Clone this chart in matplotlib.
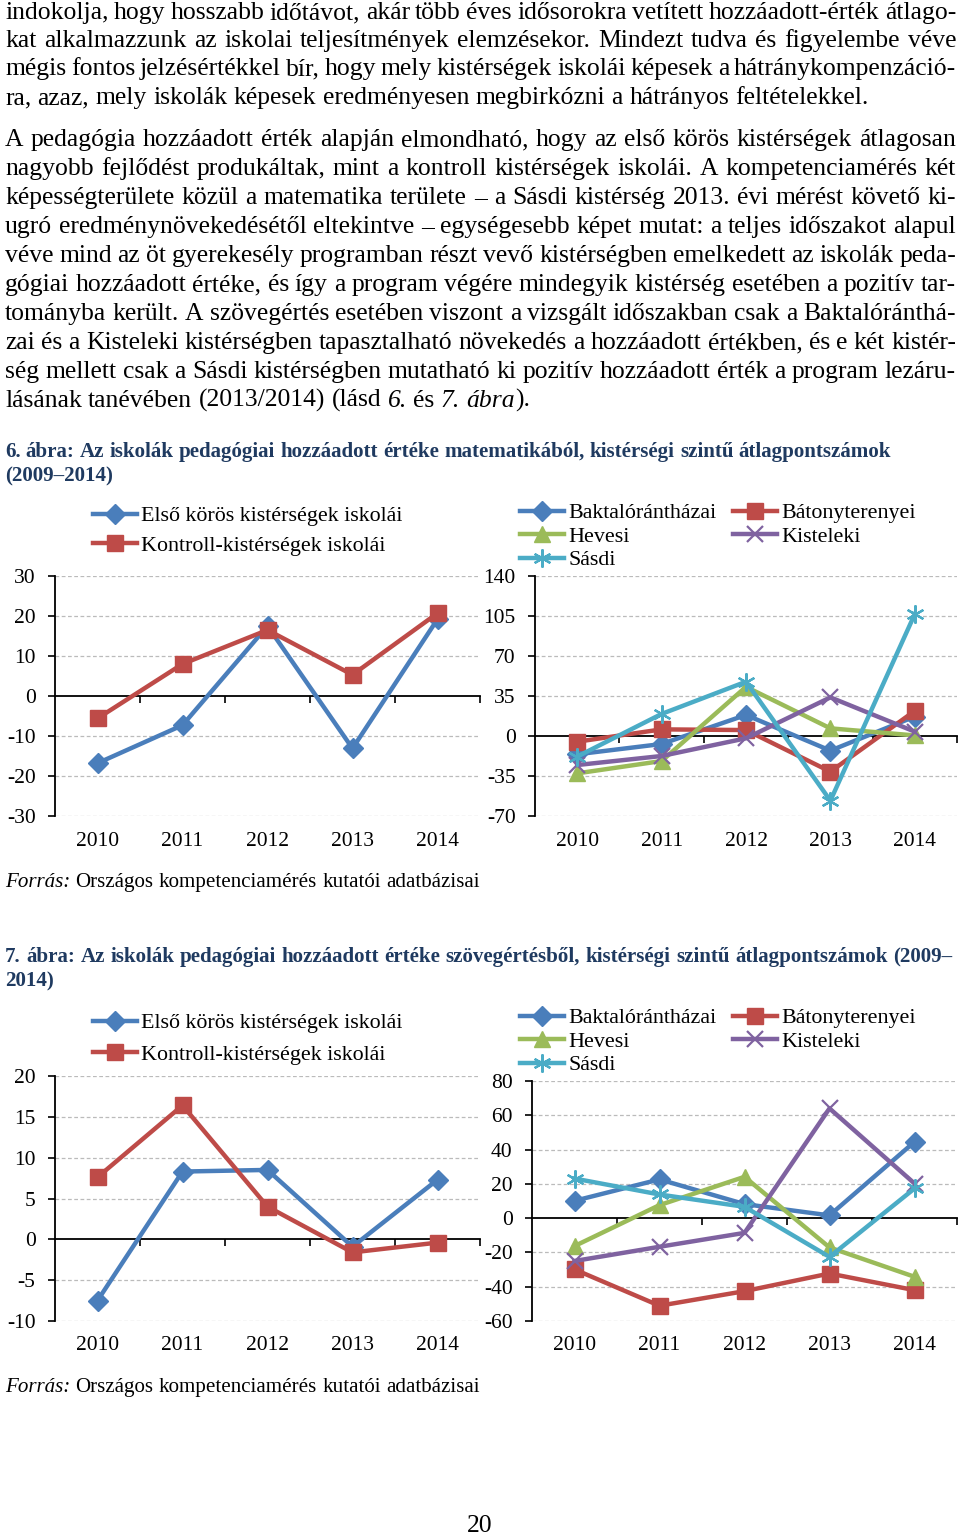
import numpy as np
import matplotlib
matplotlib.use("Agg")
import matplotlib.pyplot as plt
from matplotlib.transforms import blended_transform_factory

plt.rcParams['font.family'] = ['Liberation Serif', 'DejaVu Serif']
plt.rcParams['axes.unicode_minus'] = False

# ---------------- data ----------------
years = ['2010', '2011', '2012', '2013', '2014']

group_labels = ['Első körös kistérségek iskolái', 'Kontroll-kistérségek iskolái']
district_labels = ['Baktalórántházai', 'Bátonyterenyei', 'Hevesi', 'Kisteleki', 'Sásdi']

math_first = [-16.8, -7.3, 17.5, -13.1, 19.2]
math_control = [-5.6, 8.0, 16.5, 5.3, 20.7]

math_bakt = [-16.0, -7.0, 18.4, -12.8, 17.0]
math_baton = [-5.0, 5.8, 5.2, -31.2, 22.0]
math_heves = [-32.7, -21.9, 43.0, 6.7, 0.5]
math_kist = [-25.4, -17.5, -2.0, 33.8, 3.8]
math_sasd = [-18.0, 19.3, 47.5, -56.6, 106.7]

read_first = [-7.5, 8.3, 8.5, -0.9, 7.3]
read_control = [7.6, 16.4, 4.0, -1.6, -0.4]

read_bakt = [10.1, 22.6, 8.2, 1.6, 44.5]
read_baton = [-29.9, -51.1, -42.6, -32.3, -42.0]
read_heves = [-16.3, 7.6, 24.1, -17.1, -34.2]
read_kist = [-25.0, -16.7, -8.6, 64.0, 20.2]
read_sasd = [23.1, 13.8, 6.6, -22.6, 17.3]

# ---------------- style ----------------
W, H = 960, 1536
fig = plt.figure(figsize=(W / 100, H / 100), dpi=100)
renderer = fig.canvas.get_renderer()

C_BLUE = '#4A7EBB'
C_RED = '#BE4B48'
C_GREEN = '#9BBB59'
C_PURPLE = '#7F62A0'
C_CYAN = '#4BACC6'
CAP_COLOR = '#1F3A60'

series_style = {
    'blue': dict(color=C_BLUE, marker='D', markersize=10),
    'red': dict(color=C_RED, marker='s', markersize=11),
    'green': dict(color=C_GREEN, marker='^', markersize=11),
    'purple': dict(color=C_PURPLE, marker='x', markersize=11, markeredgewidth=1.6),
    'cyan': dict(color=C_CYAN, marker=(6, 2, 0), markersize=13, markeredgewidth=1.6),
}

TICK = 15.5
LEG = 15.8


def fy(y):
    return 1 - y / H


def make_ax(left, top, right, bottom):
    return fig.add_axes([left / W, 1 - bottom / H, (right - left) / W, (bottom - top) / H])


def style_chart(ax, ylim, step, cats, height_px):
    n = len(cats)
    ax.set_xlim(-0.5, n - 0.5)
    ax.set_ylim(*ylim)
    yt = np.arange(ylim[0], ylim[1] + step / 2, step)
    ax.set_yticks(yt)
    ax.set_yticklabels([f'{int(v)}' for v in yt])
    for v in yt:
        if v != 0:
            ax.axhline(v, color='#BBBBBB', lw=0.9, ls=(0, (3, 2)), zorder=0)
    for s in ['top', 'right']:
        ax.spines[s].set_visible(False)
    ax.spines['bottom'].set_position(('data', 0))
    ax.spines['bottom'].set_linewidth(1.3)
    ax.spines['left'].set_linewidth(1.3)
    ax.set_xticks(np.arange(0.5, n))
    ax.tick_params(axis='x', direction='out', length=5, width=1.2, labelbottom=False)
    ax.tick_params(axis='y', direction='out', length=5, width=1.2, pad=9, labelsize=TICK)
    tr = blended_transform_factory(ax.transData, ax.transAxes)
    for i, c in enumerate(cats):
        ax.text(i, -25 / height_px, c, transform=tr, ha='center', va='center', fontsize=TICK)
    ax.patch.set_alpha(0)


def plot_series(ax, vals, key, lw=3.2):
    x = np.arange(len(vals))
    return ax.plot(x, vals, lw=lw, zorder=3, clip_on=False, **series_style[key])[0]


# ---------------- text helpers ----------------
def measure(s, size, style='normal', weight='normal'):
    t = fig.text(0, 0, s, fontsize=size, fontstyle=style, fontweight=weight)
    w = t.get_window_extent(renderer).width
    t.remove()
    return w


def place_line(words, y_base, size, justify, x0=5, x1=956, color='black', weight='normal'):
    widths = []
    for wd in words:
        widths.append([measure(txt, size, st, weight) for txt, st in wd])
    totals = [sum(w) for w in widths]
    if justify and len(words) > 1:
        gap = (x1 - x0 - sum(totals)) / (len(words) - 1)
    else:
        gap = measure('x x', size, 'normal', weight) - measure('xx', size, 'normal', weight)
    x = x0
    for wd, ws in zip(words, widths):
        xx = x
        for (txt, st), w in zip(wd, ws):
            fig.text(xx / W, fy(y_base), txt, fontsize=size, fontstyle=st, fontweight=weight,
                     color=color, ha='left', va='baseline')
            xx += w
        x = xx + gap


def simple_words(s, style='normal'):
    return [[(w, style)] for w in s.split(' ')]


def fit_size(text, target_px, ref=15.0, weight='normal'):
    return ref * target_px / measure(text, ref, 'normal', weight)


para1 = [
    "indokolja, hogy hosszabb időtávot, akár több éves idősorokra vetített hozzáadott-érték átlago-",
    "kat alkalmazzunk az iskolai teljesítmények elemzésekor. Mindezt tudva és figyelembe véve",
    "mégis fontos jelzésértékkel bír, hogy mely kistérségek iskolái képesek a hátránykompenzáció-",
    "ra, azaz, mely iskolák képesek eredményesen megbirkózni a hátrányos feltételekkel.",
]
para1_y = [12, 40, 68, 97]

para2 = [
    "A pedagógia hozzáadott érték alapján elmondható, hogy az első körös kistérségek átlagosan",
    "nagyobb fejlődést produkáltak, mint a kontroll kistérségek iskolái. A kompetenciamérés két",
    "képességterülete közül a matematika területe – a Sásdi kistérség 2013. évi mérést követő ki-",
    "ugró eredménynövekedésétől eltekintve – egységesebb képet mutat: a teljes időszakot alapul",
    "véve mind az öt gyerekesély programban részt vevő kistérségben emelkedett az iskolák peda-",
    "gógiai hozzáadott értéke, és így a program végére mindegyik kistérség esetében a pozitív tar-",
    "tományba került. A szövegértés esetében viszont a vizsgált időszakban csak a Baktalóránthá-",
    "zai és a Kisteleki kistérségben tapasztalható növekedés a hozzáadott értékben, és e két kistér-",
    "ség mellett csak a Sásdi kistérségben mutatható ki pozitív hozzáadott érték a program lezáru-",
]
para2_y = [139, 168, 197, 226, 255, 284, 313, 342, 371, 400]

# body font size: match width of the unjustified last line of paragraph 1
BODY = fit_size(para1[-1], 879)
# make sure every justified line still fits with a natural-looking gap
for line in para1[:-1] + para2:
    words = line.split(' ')
    nat = sum(measure(w, BODY) for w in words) + 5.0 * (len(words) - 1)
    if nat > 951:
        BODY *= 951 / nat

BASE_OFF = 7
for i, (line, y) in enumerate(zip(para1, para1_y)):
    place_line(simple_words(line), y + BASE_OFF, BODY, justify=(i < len(para1) - 1))
for line, y in zip(para2, para2_y[:-1]):
    place_line(simple_words(line), y + BASE_OFF, BODY, justify=True)
last_words = simple_words("lásának tanévében (2013/2014) (lásd") + [[("6.", 'italic')], [("és", 'normal')],
              [("7.", 'italic')], [("ábra", 'italic'), (").", 'normal')]]
place_line(last_words, para2_y[-1] + BASE_OFF, BODY, justify=False)

# captions
cap6 = "6. ábra: Az iskolák pedagógiai hozzáadott értéke matematikából, kistérségi szintű átlagpontszámok"
cap7 = "7. ábra: Az iskolák pedagógiai hozzáadott értéke szövegértésből, kistérségi szintű átlagpontszámok (2009–"
CAP = fit_size(cap6, 888, weight='bold')
place_line(simple_words(cap6), 451 + 6, CAP, justify=False, color=CAP_COLOR, weight='bold')
place_line(simple_words("(2009–2014)"), 475 + 6, CAP, justify=False, color=CAP_COLOR, weight='bold')
place_line(simple_words(cap7), 956 + 6, CAP, justify=True, x1=952, color=CAP_COLOR, weight='bold')
place_line(simple_words("2014)"), 980 + 6, CAP, justify=False, color=CAP_COLOR, weight='bold')

src_rest = "Országos kompetenciamérés kutatói adatbázisai"
SRC = fit_size("Forrás: " + src_rest, 471)
for y in [881, 1386]:
    place_line([[("Forrás:", 'italic')]] + simple_words(src_rest), y + 6, SRC, justify=False)

fig.text(480 / W, fy(1526 + 6), "20", fontsize=BODY, ha='center', va='baseline')


# ---------------- charts ----------------
def group_chart(ax, first, control, ylim, step, h, leg_x, leg_top, spacing):
    style_chart(ax, ylim, step, years, h)
    l1 = plot_series(ax, first, 'blue')
    l2 = plot_series(ax, control, 'red')
    ax.legend([l1, l2], group_labels, loc='upper left', bbox_to_anchor=(leg_x / W, fy(leg_top)),
              bbox_transform=fig.transFigure, frameon=False, borderpad=0, borderaxespad=0,
              handlelength=2.0, handletextpad=0.2, labelspacing=spacing, prop={'size': LEG})


def district_chart(ax, series, ylim, step, h, leg_x, leg_top):
    style_chart(ax, ylim, step, years, h)
    keys = ['blue', 'red', 'green', 'purple', 'cyan']
    lines = [plot_series(ax, s, k) for s, k in zip(series, keys)]
    order = [0, 2, 4, 1, 3]
    ax.legend([lines[i] for i in order], [district_labels[i] for i in order], ncol=2,
              loc='upper left', bbox_to_anchor=(leg_x / W, fy(leg_top)),
              bbox_transform=fig.transFigure, frameon=False, borderpad=0, borderaxespad=0,
              handlelength=2.0, handletextpad=0.2, labelspacing=0.14, columnspacing=0.75,
              prop={'size': LEG})


ax1 = make_ax(55, 576, 480, 816)
group_chart(ax1, math_first, math_control, (-30, 30), 10, 240, 93, 506, 0.43)

ax2 = make_ax(535, 576, 957, 816)
district_chart(ax2, [math_bakt, math_baton, math_heves, math_kist, math_sasd], (-70, 140), 35, 240, 520, 503)

ax3 = make_ax(55, 1076, 480, 1321)
group_chart(ax3, read_first, read_control, (-10, 20), 5, 245, 93, 1013, 0.52)

ax4 = make_ax(532, 1081, 957, 1321)
district_chart(ax4, [read_bakt, read_baton, read_heves, read_kist, read_sasd], (-60, 80), 20, 240, 520, 1008)

fig.savefig('out.png', dpi=100)
